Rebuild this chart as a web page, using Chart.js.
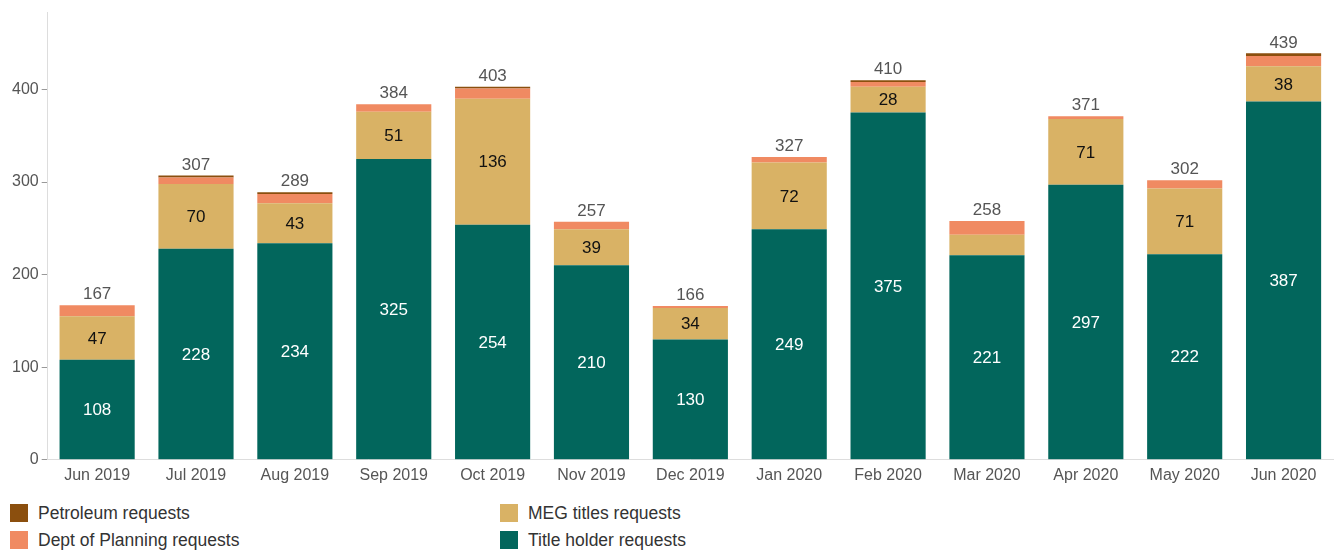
<!DOCTYPE html>
<html>
<head>
<meta charset="utf-8">
<script src="https://cdn.jsdelivr.net/npm/chart.js@4/dist/chart.umd.min.js"></script>
<style>
  html, body { margin:0; padding:0; background:#fff; }
  body { width:1336px; height:553px; overflow:hidden; font-family:"Liberation Sans", Arial, sans-serif; }
  #wrap { position:relative; width:1336px; height:491px; }
  .legend { position:absolute; top:504px; left:0; width:1336px; }
  .item { position:absolute; display:flex; align-items:center; font-size:17.5px; color:#333; line-height:18px; }
  .sw { width:18px; height:18px; margin-right:10px; }
</style>
</head>
<body>
<div id="wrap"><canvas id="c"></canvas></div>
<div class="legend">
  <div class="item" style="left:10px;top:0px"><span class="sw" style="background:#8B4F0E"></span>Petroleum requests</div>
  <div class="item" style="left:10px;top:27px"><span class="sw" style="background:#F08A62"></span>Dept of Planning requests</div>
  <div class="item" style="left:500px;top:0px"><span class="sw" style="background:#D9B265"></span>MEG titles requests</div>
  <div class="item" style="left:500px;top:27px"><span class="sw" style="background:#02665C"></span>Title holder requests</div>
</div>
<script>
// monthly requests
const months = ['Jun 2019','Jul 2019','Aug 2019','Sep 2019','Oct 2019','Nov 2019','Dec 2019','Jan 2020','Feb 2020','Mar 2020','Apr 2020','May 2020','Jun 2020'];
const titleHolder = [108,228,234,325,254,210,130,249,375,221,297,222,387];
const megTitles   = [47,70,43,51,136,39,34,72,28,22,71,71,38];
const planning    = [12,7,10,8,11,8,2,6,5,15,3,9,11];
const petroleum   = [0,2,2,0,2,0,0,0,2,0,0,0,3];
const totals      = [167,307,289,384,403,257,166,327,410,258,371,302,439];
const yTicks      = [0,100,200,300,400];

const FONT = '"Liberation Sans", Arial, sans-serif';

const labelsPlugin = {
  id:'barLabels',
  afterDatasetsDraw(chart){
    const c = chart.ctx;
    c.save();
    c.font = '17px ' + FONT;
    c.textAlign = 'center';
    c.textBaseline = 'middle';
    [0,1].forEach(di => {
      const meta = chart.getDatasetMeta(di);
      meta.data.forEach((bar, i) => {
        const v = chart.data.datasets[di].data[i];
        if(v < 25) return;
        c.fillStyle = di === 0 ? '#fff' : '#111';
        c.fillText(String(v), bar.x, (bar.y + bar.base)/2 + 1);
      });
    });
    const top = chart.getDatasetMeta(3);
    c.fillStyle = '#555';
    c.textBaseline = 'bottom';
    top.data.forEach((bar, i) => {
      const y = chart.scales.y.getPixelForValue(totals[i]);
      c.fillText(String(totals[i]), bar.x, y - 2);
    });
    c.restore();
  }
};

new Chart(document.getElementById('c'), {
  type:'bar',
  data:{labels:months, datasets:[
    {label:'Title holder requests', data:titleHolder, backgroundColor:'#02665C'},
    {label:'MEG titles requests', data:megTitles, backgroundColor:'#D9B265'},
    {label:'Dept of Planning requests', data:planning, backgroundColor:'#F08A62'},
    {label:'Petroleum requests', data:petroleum, backgroundColor:'#8B4F0E'}
  ]},
  options:{
    responsive:true, maintainAspectRatio:false, animation:false,
    layout:{padding:{top:1, right:3, left:9}},
    datasets:{bar:{categoryPercentage:1, barPercentage:0.76}},
    plugins:{legend:{display:false}, tooltip:{enabled:false}},
    scales:{
      x:{stacked:true,
        grid:{display:false, drawTicks:false},
        border:{color:'#ddd'},
        ticks:{color:'#555', font:{size:16, family:FONT}, padding:6, maxRotation:0}},
      y:{stacked:true, min:0, max:483,
        afterBuildTicks(scale){ scale.ticks = yTicks.map(v => ({value:v})); },
        grid:{drawOnChartArea:false, tickLength:6, color:'#999'},
        border:{color:'#ddd'},
        ticks:{color:'#555', font:{size:16, family:FONT}, padding:3}}
    }
  },
  plugins:[labelsPlugin]
});
</script>
</body>
</html>
